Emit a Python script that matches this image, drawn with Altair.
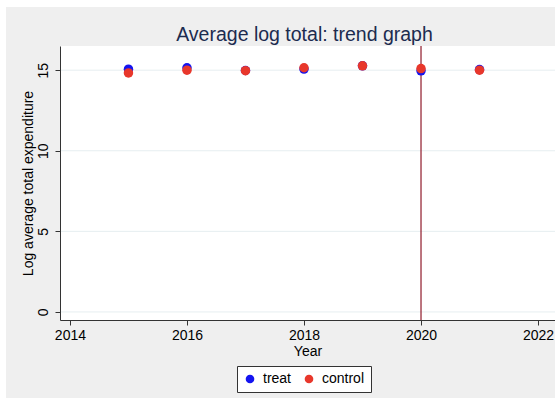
import altair as alt
import pandas as pd

# Yearly averages of log total expenditure by group
years = [2015, 2016, 2017, 2018, 2019, 2020, 2021]
treat = [15.06, 15.15, 14.98, 15.07, 15.27, 14.96, 15.04]
control = [14.83, 15.00, 14.97, 15.15, 15.27, 15.10, 15.00]
groups = ["treat", "control"]
group_colors = ["#1414f0", "#e8372b"]
y_ticks = [0, 5, 10, 15]
x_ticks = [2014, 2016, 2018, 2020, 2022]
event_year = [2020]
title_text = ["Average log total: trend graph"]

df = pd.DataFrame(
    {
        "Year": years * 2,
        "value": treat + control,
        "group": ["treat"] * len(years) + ["control"] * len(years),
    }
)
grid_df = pd.DataFrame({"g": y_ticks})
event_df = pd.DataFrame({"Year": event_year})
title_df = pd.DataFrame({"t": title_text})

W, H = 495, 274
FONT = "Liberation Sans"

xscale = alt.Scale(domain=[2013.83, 2022.29], nice=False, zero=False)
yscale = alt.Scale(domain=[-0.5, 16.5], nice=False, zero=False)

# gray outer panel and white plot region
panel = alt.Chart(pd.DataFrame({"a": [0]})).mark_rect(
    color="#efefef", clip=False
).encode(
    x=alt.value(-54), x2=alt.value(W + 10), y=alt.value(-39), y2=alt.value(H + 78)
)
plot_bg = alt.Chart(pd.DataFrame({"a": [0]})).mark_rect(color="white").encode(
    x=alt.value(0), x2=alt.value(W), y=alt.value(0), y2=alt.value(H)
)

# chart heading centred over the plot region
heading = alt.Chart(title_df).mark_text(
    font=FONT, fontSize=19.5, color="#1c2b4f", align="center", baseline="alphabetic"
).encode(text="t:N", x=alt.value(W / 2 - 3), y=alt.value(-5))

grid = alt.Chart(grid_df).mark_rule(color="#e6eef0", strokeWidth=1).encode(
    y=alt.Y("g:Q", scale=yscale), x=alt.value(0), x2=alt.value(W)
)

event = alt.Chart(event_df).mark_rule(color="#8f1a2a", strokeWidth=1.2).encode(
    x=alt.X("Year:Q", scale=xscale), y=alt.value(0), y2=alt.value(H)
)

points = alt.Chart(df).mark_circle(size=90, opacity=1).encode(
    x=alt.X(
        "Year:Q",
        scale=xscale,
        axis=alt.Axis(
            values=x_ticks,
            format="d",
            title="Year",
            grid=False,
            tickSize=5,
            labelOverlap=False,
            labelFlush=False,
            labelBound=False,
            labelPadding=3,
            titlePadding=2,
            zindex=1,
        ),
    ),
    y=alt.Y(
        "value:Q",
        scale=yscale,
        axis=alt.Axis(
            values=y_ticks,
            title="Log average total expenditure",
            grid=False,
            tickSize=5,
            labelAngle=-90,
            labelAlign="center",
            labelBaseline="bottom",
            labelPadding=5,
            titlePadding=1,
            zindex=1,
        ),
    ),
    color=alt.Color(
        "group:N",
        scale=alt.Scale(domain=groups, range=group_colors),
        sort=groups,
        legend=alt.Legend(
            title=None,
            orient="none",
            legendX=177,
            legendY=320,
            direction="horizontal",
            fillColor="white",
            strokeColor="#333333",
            padding=6,
            symbolType="circle",
            symbolSize=75,
            symbolStrokeWidth=0,
            labelFontSize=14,
            labelFont=FONT,
            labelColor="black",
            columnPadding=10,
            symbolOffset=0,
            labelOffset=6,
        ),
    ),
    order=alt.Order("group:N", sort="descending"),
)

chart = (
    alt.layer(panel, plot_bg, heading, grid, event, points)
    .properties(
        width=W,
        height=H,
        autosize=alt.AutoSizeParams(type="none"),
        padding={"left": 60, "top": 46, "right": 0, "bottom": 81},
        background="white",
    )
    .configure_view(stroke=None)
    .configure_axis(
        labelFont=FONT,
        titleFont=FONT,
        labelFontSize=14,
        titleFontSize=14,
        labelColor="black",
        titleColor="black",
        titleFontWeight="normal",
        domainColor="#333333",
        tickColor="#333333",
    )
)

chart.save("out.html", embed_options={"renderer": "svg", "actions": False})
